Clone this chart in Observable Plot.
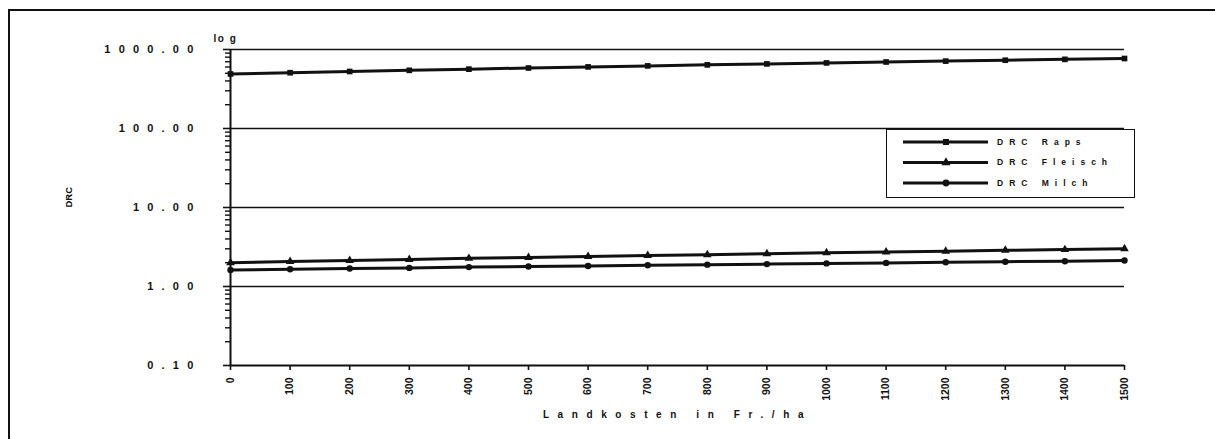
<!DOCTYPE html>
<html>
<head>
<meta charset="utf-8">
<script src="https://cdn.jsdelivr.net/npm/d3@7"></script>
<script src="https://cdn.jsdelivr.net/npm/@observablehq/plot@0.6"></script>
<style>
  html, body { margin: 0; padding: 0; background: #fff; }
  body { width: 1215px; height: 439px; position: relative; overflow: hidden; font-family: "Liberation Sans", Arial, sans-serif; }
  #frame { position: absolute; left: 8px; top: 9px; width: 1300px; height: 500px; border: 2px solid #111; box-sizing: border-box; }
  #chart { position: absolute; left: 0; top: 0; }
  #legend { position: absolute; left: 886px; top: 129px; width: 249px; height: 69px; border: 1.5px solid #111; box-sizing: border-box; background: #fff; }
  #legend svg { position: absolute; left: 0; top: 0; }
</style>
</head>
<body>
<div id="frame"></div>
<div id="chart"></div>
<div id="legend"></div>
<script>
// ---- data ----
const landkosten = [0, 100, 200, 300, 400, 500, 600, 700, 800, 900, 1000, 1100, 1200, 1300, 1400, 1500];
const seriesNames = ["DRC Raps", "DRC Fleisch", "DRC Milch"];
const drcRaps    = [490, 508, 527, 545, 564, 583, 602, 620, 639, 657, 676, 695, 713, 732, 750, 769];
const drcFleisch = [2.00, 2.07, 2.13, 2.20, 2.27, 2.33, 2.40, 2.47, 2.53, 2.60, 2.67, 2.73, 2.80, 2.87, 2.93, 3.00];
const drcMilch   = [1.62, 1.65, 1.69, 1.72, 1.76, 1.79, 1.82, 1.86, 1.89, 1.92, 1.96, 1.99, 2.03, 2.06, 2.09, 2.13];
const yTicks = [0.1, 1, 10, 100, 1000];
const gridValues = [1, 10, 100, 1000];
const xTicks = landkosten;
const yLabel = "DRC";
const yUnit = "lo g";
const xLabel = "Landkosten in Fr./ha";

const seriesValues = [drcRaps, drcFleisch, drcMilch];
const data = [];
seriesNames.forEach((s, i) => landkosten.forEach((x, j) => data.push({series: s, x, y: seriesValues[i][j]})));

const minorTicks = [];
for (const d of [0.1, 1, 10, 100]) for (let k = 2; k <= 9; k++) minorTicks.push(+(d * k).toPrecision(3));

const symbols = ["square", "triangle", "circle"];
const font = "'Liberation Sans', Arial, sans-serif";

const chart = Plot.plot({
  width: 1215,
  height: 439,
  marginLeft: 230,
  marginRight: 91,
  marginTop: 49,
  marginBottom: 74,
  x: {domain: [0, 1500]},
  y: {type: "log", domain: [0.1, 1000]},
  symbol: {domain: seriesNames, range: symbols},
  style: {fontFamily: font, fontWeight: "bold", color: "#111", background: "transparent", overflow: "visible"},
  marks: [
    Plot.ruleY(gridValues, {x1: 0, x2: 1500, stroke: "#111", strokeWidth: 1.4}),
    Plot.axisY({ticks: minorTicks, tickSize: 5, tickFormat: () => "", label: null, strokeWidth: 1.4, strokeOpacity: 1}),
    Plot.axisY({ticks: yTicks, tickSize: 7, tickPadding: 22, tickFormat: d3.format(".2f"), fontSize: 11, label: null, strokeWidth: 1.6, strokeOpacity: 1}),
    Plot.axisX({ticks: xTicks, tickSize: 5, tickRotate: -90, tickPadding: 7, tickFormat: d3.format("d"), fontSize: 10.5, label: null, strokeWidth: 1.6, strokeOpacity: 1}),
    Plot.ruleX([0], {y1: 0.1, y2: 1000, stroke: "#111", strokeWidth: 2}),
    Plot.ruleY([0.1], {x1: 0, x2: 1500, stroke: "#111", strokeWidth: 2}),
    Plot.line(data, {x: "x", y: "y", z: "series", stroke: "#111", strokeWidth: 3}),
    Plot.dot(data, {x: "x", y: "y", symbol: "series", fill: "#111", stroke: "none", r: 3.2}),
    Plot.text([yUnit], {frameAnchor: "top-left", dx: -17, dy: -15, fontSize: 10, textAnchor: "start"}),
    Plot.text([yLabel], {frameAnchor: "left", rotate: -90, dx: -162, dy: 0, fontSize: 9.5}),
    Plot.text([xLabel], {frameAnchor: "bottom", dy: 52, fontSize: 10})
  ]
});
document.getElementById("chart").appendChild(chart);

const svg = d3.select(chart);
svg.selectAll('g[aria-label="y-axis tick label"] text').style("letter-spacing", "8.2px");
svg.selectAll('g[aria-label="text"] text').each(function() {
  const t = d3.select(this).text();
  if (t === xLabel) d3.select(this).style("letter-spacing", "8.6px");
  if (t === yUnit) d3.select(this).style("letter-spacing", "1.5px").style("white-space", "pre");
});

// ---- legend ----
const leg = d3.select("#legend").append("svg").attr("width", 249).attr("height", 69);
seriesNames.forEach((s, i) => {
  const y = 12 + i * 20.5;
  leg.append("line").attr("x1", 16).attr("x2", 101).attr("y1", y).attr("y2", y).attr("stroke", "#111").attr("stroke-width", 3);
  leg.append("path").attr("transform", `translate(59,${y})`).attr("d", d3.symbol(d3[{square: "symbolSquare", triangle: "symbolTriangle", circle: "symbolCircle"}[symbols[i]]], 36)()).attr("fill", "#111");
  leg.append("text").attr("x", 110).attr("y", y).attr("dy", "0.35em")
    .attr("font-size", 8.5).attr("font-weight", "bold").attr("font-family", font)
    .style("letter-spacing", "6px").attr("fill", "#111").text(s);
});
</script>
</body>
</html>
